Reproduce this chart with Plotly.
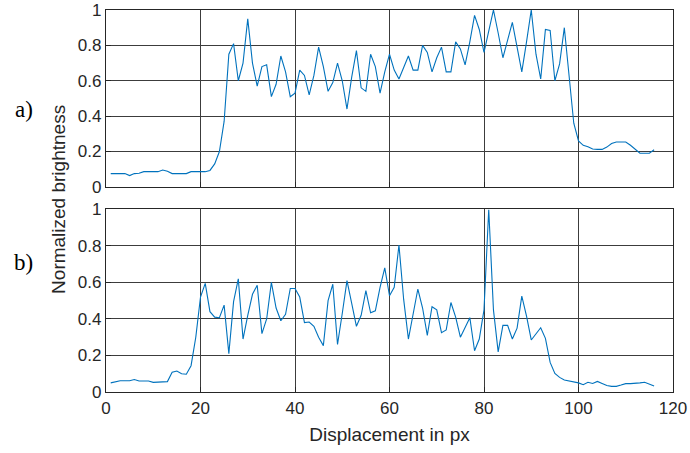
import plotly.graph_objects as go

# Sample positions (px)
displacement = list(range(1, 117))

# Panel a) normalized brightness profile
brightness_a = [
    0.075, 0.075, 0.075, 0.075, 0.064, 0.075, 0.077, 0.086, 0.086, 0.086,
    0.086, 0.095, 0.088, 0.075, 0.075, 0.075, 0.075, 0.086, 0.086, 0.086,
    0.086, 0.093, 0.13, 0.20, 0.37, 0.75, 0.81, 0.60, 0.70, 0.95,
    0.70, 0.57, 0.68, 0.69, 0.51, 0.58, 0.74, 0.65, 0.51, 0.53,
    0.66, 0.63, 0.52, 0.63, 0.79, 0.68, 0.54, 0.59, 0.70, 0.60,
    0.44, 0.62, 0.77, 0.56, 0.54, 0.75, 0.68, 0.53, 0.65, 0.75,
    0.66, 0.61, 0.68, 0.74, 0.66, 0.66, 0.80, 0.76, 0.65, 0.73,
    0.79, 0.65, 0.65, 0.82, 0.78, 0.69, 0.82, 0.97, 0.89, 0.76,
    0.88, 1.00, 0.87, 0.73, 0.83, 0.93, 0.79, 0.65, 0.82, 1.00,
    0.75, 0.61, 0.89, 0.885, 0.60, 0.695, 0.90, 0.62, 0.36, 0.26,
    0.235, 0.227, 0.214, 0.212, 0.212, 0.225, 0.245, 0.254, 0.254, 0.254,
    0.235, 0.215, 0.19, 0.19, 0.19, 0.21,
]

# Panel b) normalized brightness profile
brightness_b = [
    0.050, 0.057, 0.062, 0.062, 0.062, 0.068, 0.060, 0.060, 0.060, 0.053,
    0.053, 0.053, 0.057, 0.108, 0.115, 0.100, 0.097, 0.144, 0.30, 0.52,
    0.595, 0.44, 0.41, 0.407, 0.476, 0.21, 0.495, 0.62, 0.29, 0.42,
    0.535, 0.585, 0.32, 0.40, 0.60, 0.46, 0.39, 0.425, 0.567, 0.567,
    0.52, 0.38, 0.383, 0.36, 0.30, 0.254, 0.50, 0.59, 0.26, 0.43,
    0.61, 0.485, 0.36, 0.42, 0.555, 0.434, 0.445, 0.573, 0.68, 0.527,
    0.573, 0.805, 0.507, 0.29, 0.43, 0.564, 0.46, 0.31, 0.467, 0.45,
    0.325, 0.34, 0.49, 0.41, 0.30, 0.35, 0.407, 0.226, 0.29, 0.45,
    1.00, 0.45, 0.22, 0.365, 0.365, 0.29, 0.35, 0.525, 0.416, 0.285,
    0.318, 0.352, 0.294, 0.162, 0.102, 0.080, 0.066, 0.060, 0.058, 0.050,
    0.040, 0.053, 0.047, 0.058, 0.047, 0.036, 0.031, 0.031, 0.038, 0.046,
    0.046, 0.046, 0.050, 0.053, 0.042, 0.033,
]

x_ticks = [0, 20, 40, 60, 80, 100, 120]
y_ticks = [0, 0.2, 0.4, 0.6, 0.8, 1]
y_tick_text = ["0", "0.2", "0.4", "0.6", "0.8", "1"]

LINE = "#0072BD"
INK = "#262626"
GRID = "#3c3c3c"
SANS = "Liberation Sans, Arial, sans-serif"
SERIF = "Liberation Serif, Times New Roman, serif"

fig = go.Figure()
fig.add_trace(go.Scatter(x=displacement, y=brightness_a, mode="lines",
                         line=dict(color=LINE, width=1.1), xaxis="x", yaxis="y",
                         showlegend=False))
fig.add_trace(go.Scatter(x=displacement, y=brightness_b, mode="lines",
                         line=dict(color=LINE, width=1.1), xaxis="x2", yaxis="y2",
                         showlegend=False))

common_x = dict(range=[0, 120], tickvals=x_ticks, showgrid=True, gridcolor=GRID,
                gridwidth=1, showline=True, linecolor=INK, linewidth=1.3,
                mirror=True, ticks="inside", ticklen=5, tickcolor=INK,
                zeroline=False, automargin=False,
                tickfont=dict(family=SANS, size=17, color=INK))
common_y = dict(range=[0, 1], tickvals=y_ticks, ticktext=y_tick_text,
                showgrid=True, gridcolor=GRID, gridwidth=1, showline=True,
                linecolor=INK, linewidth=1.3, mirror=True, ticks="inside",
                ticklen=5, tickcolor=INK, zeroline=False, automargin=False,
                ticklabeloverflow="allow",
                tickfont=dict(family=SANS, size=17, color=INK))

# Plot area spans y = 10..392 px; panel a) ends at 187 px, panel b) starts at 209 px
fig.update_layout(
    width=690, height=453,
    margin=dict(l=106, r=17, t=10, b=61, autoexpand=False),
    paper_bgcolor="white", plot_bgcolor="white",
    xaxis=dict(common_x, domain=[0, 1], anchor="y", showticklabels=False),
    yaxis=dict(common_y, domain=[0.537, 1.0], anchor="x"),
    xaxis2=dict(common_x, domain=[0, 1], anchor="y2",
                title=dict(text="Displacement in px", standoff=11,
                           font=dict(family=SANS, size=19, color=INK))),
    yaxis2=dict(common_y, domain=[0.0, 0.478], anchor="x2"),
    annotations=[
        dict(text="Normalized brightness", textangle=-90, xref="paper",
             yref="paper", x=-0.085, y=0.505, xanchor="center", yanchor="middle",
             showarrow=False, font=dict(family=SANS, size=19, color=INK)),
        dict(text="a)", xref="paper", yref="paper", x=-0.125, y=0.74,
             xanchor="right", yanchor="middle", showarrow=False,
             font=dict(family=SERIF, size=23, color="black")),
        dict(text="b)", xref="paper", yref="paper", x=-0.125, y=0.34,
             xanchor="right", yanchor="middle", showarrow=False,
             font=dict(family=SERIF, size=23, color="black")),
    ],
)

fig.write_html("out.html")
